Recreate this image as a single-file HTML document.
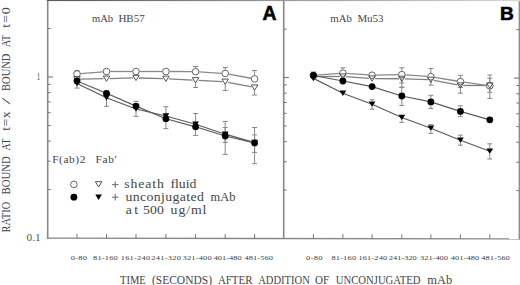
<!DOCTYPE html>
<html><head><meta charset="utf-8"><style>
html,body{margin:0;padding:0;background:#fff;width:520px;height:285px;overflow:hidden}
svg{display:block}
</style></head><body>
<svg width="520" height="285" viewBox="0 0 520 285">
<rect width="520" height="285" fill="#fff"/>
<line x1="47.7" y1="0" x2="47.7" y2="238.79999999999998" stroke="#888" stroke-width="1.6"/>
<line x1="283.7" y1="0" x2="283.7" y2="238.79999999999998" stroke="#888" stroke-width="1.6"/>
<line x1="519.3" y1="0" x2="519.3" y2="239.39999999999998" stroke="#8e8e8e" stroke-width="1.4"/>
<defs><linearGradient id="tg" x1="0" y1="0" x2="1" y2="0"><stop offset="0" stop-color="#585858"/><stop offset="1" stop-color="#d8d8d8"/></linearGradient></defs>
<rect x="46.900000000000006" y="0" width="473.2" height="1.1" fill="url(#tg)"/>
<line x1="46.900000000000006" y1="238.2" x2="520.0999999999999" y2="238.89999999999998" stroke="#888" stroke-width="1.3"/>
<line x1="47.7" y1="77.0" x2="52.900000000000006" y2="77.0" stroke="#777" stroke-width="1.1"/>
<line x1="47.7" y1="28.5" x2="50.7" y2="28.5" stroke="#777" stroke-width="1"/>
<line x1="47.7" y1="84.4" x2="50.7" y2="84.4" stroke="#777" stroke-width="1"/>
<line x1="47.7" y1="92.6" x2="50.7" y2="92.6" stroke="#777" stroke-width="1"/>
<line x1="47.7" y1="101.9" x2="50.7" y2="101.9" stroke="#777" stroke-width="1"/>
<line x1="47.7" y1="112.7" x2="50.7" y2="112.7" stroke="#777" stroke-width="1"/>
<line x1="47.7" y1="125.5" x2="50.7" y2="125.5" stroke="#777" stroke-width="1"/>
<line x1="47.7" y1="141.1" x2="50.7" y2="141.1" stroke="#777" stroke-width="1"/>
<line x1="47.7" y1="161.2" x2="50.7" y2="161.2" stroke="#777" stroke-width="1"/>
<line x1="47.7" y1="189.5" x2="50.7" y2="189.5" stroke="#777" stroke-width="1"/>
<line x1="283.7" y1="77.5" x2="288.9" y2="77.5" stroke="#777" stroke-width="1.1"/>
<line x1="283.7" y1="29.1" x2="286.7" y2="29.1" stroke="#777" stroke-width="1"/>
<line x1="283.7" y1="84.9" x2="286.7" y2="84.9" stroke="#777" stroke-width="1"/>
<line x1="283.7" y1="93.1" x2="286.7" y2="93.1" stroke="#777" stroke-width="1"/>
<line x1="283.7" y1="102.5" x2="286.7" y2="102.5" stroke="#777" stroke-width="1"/>
<line x1="283.7" y1="113.3" x2="286.7" y2="113.3" stroke="#777" stroke-width="1"/>
<line x1="283.7" y1="126.0" x2="286.7" y2="126.0" stroke="#777" stroke-width="1"/>
<line x1="283.7" y1="141.6" x2="286.7" y2="141.6" stroke="#777" stroke-width="1"/>
<line x1="283.7" y1="161.7" x2="286.7" y2="161.7" stroke="#777" stroke-width="1"/>
<line x1="283.7" y1="190.1" x2="286.7" y2="190.1" stroke="#777" stroke-width="1"/>
<line x1="519.3" y1="78.1" x2="514.0999999999999" y2="78.1" stroke="#777" stroke-width="1.1"/>
<line x1="519.3" y1="29.6" x2="516.3" y2="29.6" stroke="#777" stroke-width="1"/>
<line x1="519.3" y1="85.5" x2="516.3" y2="85.5" stroke="#777" stroke-width="1"/>
<line x1="519.3" y1="93.7" x2="516.3" y2="93.7" stroke="#777" stroke-width="1"/>
<line x1="519.3" y1="103.0" x2="516.3" y2="103.0" stroke="#777" stroke-width="1"/>
<line x1="519.3" y1="113.8" x2="516.3" y2="113.8" stroke="#777" stroke-width="1"/>
<line x1="519.3" y1="126.6" x2="516.3" y2="126.6" stroke="#777" stroke-width="1"/>
<line x1="519.3" y1="142.2" x2="516.3" y2="142.2" stroke="#777" stroke-width="1"/>
<line x1="519.3" y1="162.3" x2="516.3" y2="162.3" stroke="#777" stroke-width="1"/>
<line x1="519.3" y1="190.6" x2="516.3" y2="190.6" stroke="#777" stroke-width="1"/>
<line x1="77" y1="238.24" x2="77" y2="233.84" stroke="#777" stroke-width="1"/>
<line x1="106.5" y1="238.29" x2="106.5" y2="233.89" stroke="#777" stroke-width="1"/>
<line x1="136" y1="238.33" x2="136" y2="233.93" stroke="#777" stroke-width="1"/>
<line x1="165.9" y1="238.38" x2="165.9" y2="233.98" stroke="#777" stroke-width="1"/>
<line x1="195.6" y1="238.42" x2="195.6" y2="234.02" stroke="#777" stroke-width="1"/>
<line x1="225.2" y1="238.46" x2="225.2" y2="234.06" stroke="#777" stroke-width="1"/>
<line x1="254.6" y1="238.51" x2="254.6" y2="234.11" stroke="#777" stroke-width="1"/>
<line x1="313.4" y1="238.59" x2="313.4" y2="234.19" stroke="#777" stroke-width="1"/>
<line x1="342.9" y1="238.64" x2="342.9" y2="234.24" stroke="#777" stroke-width="1"/>
<line x1="372.1" y1="238.68" x2="372.1" y2="234.28" stroke="#777" stroke-width="1"/>
<line x1="401.8" y1="238.73" x2="401.8" y2="234.33" stroke="#777" stroke-width="1"/>
<line x1="430.9" y1="238.77" x2="430.9" y2="234.37" stroke="#777" stroke-width="1"/>
<line x1="460.4" y1="238.81" x2="460.4" y2="234.41" stroke="#777" stroke-width="1"/>
<line x1="489.8" y1="238.86" x2="489.8" y2="234.46" stroke="#777" stroke-width="1"/>
<line x1="74.5" y1="70.7" x2="79.5" y2="70.7" stroke="#888" stroke-width="1"/>
<line x1="195.6" y1="68.10" x2="195.6" y2="66.5" stroke="#888" stroke-width="1"/>
<line x1="193.1" y1="66.5" x2="198.1" y2="66.5" stroke="#888" stroke-width="1"/>
<line x1="225.2" y1="69.90" x2="225.2" y2="67.5" stroke="#888" stroke-width="1"/>
<line x1="222.7" y1="67.5" x2="227.7" y2="67.5" stroke="#888" stroke-width="1"/>
<line x1="254.6" y1="75.30" x2="254.6" y2="70.5" stroke="#888" stroke-width="1"/>
<line x1="252.1" y1="70.5" x2="257.1" y2="70.5" stroke="#888" stroke-width="1"/>
<line x1="195.6" y1="83.00" x2="195.6" y2="87.5" stroke="#888" stroke-width="1"/>
<line x1="193.1" y1="87.5" x2="198.1" y2="87.5" stroke="#888" stroke-width="1"/>
<line x1="225.2" y1="84.50" x2="225.2" y2="90.5" stroke="#888" stroke-width="1"/>
<line x1="222.7" y1="90.5" x2="227.7" y2="90.5" stroke="#888" stroke-width="1"/>
<line x1="254.6" y1="90.30" x2="254.6" y2="95" stroke="#888" stroke-width="1"/>
<line x1="252.1" y1="95" x2="257.1" y2="95" stroke="#888" stroke-width="1"/>
<line x1="77" y1="84.60" x2="77" y2="88.1" stroke="#888" stroke-width="1"/>
<line x1="74.5" y1="88.1" x2="79.5" y2="88.1" stroke="#888" stroke-width="1"/>
<line x1="106.5" y1="96.90" x2="106.5" y2="106.3" stroke="#888" stroke-width="1"/>
<line x1="104.0" y1="106.3" x2="109.0" y2="106.3" stroke="#888" stroke-width="1"/>
<line x1="136" y1="102.50" x2="136" y2="101.3" stroke="#888" stroke-width="1"/>
<line x1="133.5" y1="101.3" x2="138.5" y2="101.3" stroke="#888" stroke-width="1"/>
<line x1="136" y1="109.70" x2="136" y2="116.3" stroke="#888" stroke-width="1"/>
<line x1="133.5" y1="116.3" x2="138.5" y2="116.3" stroke="#888" stroke-width="1"/>
<line x1="165.9" y1="115.20" x2="165.9" y2="106.7" stroke="#888" stroke-width="1"/>
<line x1="163.4" y1="106.7" x2="168.4" y2="106.7" stroke="#888" stroke-width="1"/>
<line x1="165.9" y1="122.40" x2="165.9" y2="128.6" stroke="#888" stroke-width="1"/>
<line x1="163.4" y1="128.6" x2="168.4" y2="128.6" stroke="#888" stroke-width="1"/>
<line x1="195.6" y1="123.20" x2="195.6" y2="113.5" stroke="#888" stroke-width="1"/>
<line x1="193.1" y1="113.5" x2="198.1" y2="113.5" stroke="#888" stroke-width="1"/>
<line x1="195.6" y1="130.40" x2="195.6" y2="135.4" stroke="#888" stroke-width="1"/>
<line x1="193.1" y1="135.4" x2="198.1" y2="135.4" stroke="#888" stroke-width="1"/>
<line x1="225.2" y1="132.40" x2="225.2" y2="121.4" stroke="#888" stroke-width="1"/>
<line x1="222.7" y1="121.4" x2="227.7" y2="121.4" stroke="#888" stroke-width="1"/>
<line x1="225.2" y1="139.60" x2="225.2" y2="154.4" stroke="#888" stroke-width="1"/>
<line x1="222.7" y1="154.4" x2="227.7" y2="154.4" stroke="#888" stroke-width="1"/>
<line x1="254.6" y1="139.30" x2="254.6" y2="127.5" stroke="#888" stroke-width="1"/>
<line x1="252.1" y1="127.5" x2="257.1" y2="127.5" stroke="#888" stroke-width="1"/>
<line x1="254.6" y1="146.50" x2="254.6" y2="163.7" stroke="#888" stroke-width="1"/>
<line x1="252.1" y1="163.7" x2="257.1" y2="163.7" stroke="#888" stroke-width="1"/>
<line x1="225.2" y1="131.40" x2="225.2" y2="127.5" stroke="#888" stroke-width="1"/>
<line x1="222.7" y1="127.5" x2="227.7" y2="127.5" stroke="#888" stroke-width="1"/>
<line x1="225.2" y1="137.00" x2="225.2" y2="142.5" stroke="#888" stroke-width="1"/>
<line x1="222.7" y1="142.5" x2="227.7" y2="142.5" stroke="#888" stroke-width="1"/>
<line x1="254.6" y1="139.80" x2="254.6" y2="134.9" stroke="#888" stroke-width="1"/>
<line x1="252.1" y1="134.9" x2="257.1" y2="134.9" stroke="#888" stroke-width="1"/>
<line x1="254.6" y1="145.40" x2="254.6" y2="152.4" stroke="#888" stroke-width="1"/>
<line x1="252.1" y1="152.4" x2="257.1" y2="152.4" stroke="#888" stroke-width="1"/>
<line x1="80.59" y1="73.61" x2="102.91" y2="71.79" stroke="#8a8a8a" stroke-width="1.3"/>
<line x1="110.10" y1="71.50" x2="132.40" y2="71.50" stroke="#8a8a8a" stroke-width="1.3"/>
<line x1="139.60" y1="71.50" x2="162.30" y2="71.50" stroke="#8a8a8a" stroke-width="1.3"/>
<line x1="169.50" y1="71.52" x2="192.00" y2="71.68" stroke="#8a8a8a" stroke-width="1.3"/>
<line x1="199.19" y1="71.92" x2="221.61" y2="73.28" stroke="#8a8a8a" stroke-width="1.3"/>
<line x1="228.74" y1="74.15" x2="251.06" y2="78.25" stroke="#8a8a8a" stroke-width="1.3"/>
<line x1="80.00" y1="79.14" x2="103.50" y2="78.66" stroke="#808080" stroke-width="1.3"/>
<line x1="109.50" y1="78.53" x2="133.00" y2="77.97" stroke="#808080" stroke-width="1.3"/>
<line x1="139.00" y1="77.98" x2="162.90" y2="78.62" stroke="#808080" stroke-width="1.3"/>
<line x1="168.90" y1="78.85" x2="192.60" y2="80.05" stroke="#808080" stroke-width="1.3"/>
<line x1="198.60" y1="80.35" x2="222.20" y2="81.55" stroke="#808080" stroke-width="1.3"/>
<line x1="228.14" y1="82.28" x2="251.66" y2="86.92" stroke="#808080" stroke-width="1.3"/>
<polyline points="77,81.0 106.5,93.3 136,106.1 165.9,118.8 195.6,126.8 225.2,136 254.6,142.9" fill="none" stroke="#5a5a5a" stroke-width="1.2"/>
<polyline points="77,83.5 106.5,97.8 136,109 165.9,116 195.6,124.2 225.2,134.2 254.6,142.6" fill="none" stroke="#5a5a5a" stroke-width="1.2"/>
<circle cx="77" cy="73.9" r="3.3000000000000003" fill="none" stroke="#555" stroke-width="0.9"/>
<circle cx="106.5" cy="71.5" r="3.3000000000000003" fill="none" stroke="#555" stroke-width="0.9"/>
<circle cx="136" cy="71.5" r="3.3000000000000003" fill="none" stroke="#555" stroke-width="0.9"/>
<circle cx="165.9" cy="71.5" r="3.3000000000000003" fill="none" stroke="#555" stroke-width="0.9"/>
<circle cx="195.6" cy="71.7" r="3.3000000000000003" fill="none" stroke="#555" stroke-width="0.9"/>
<circle cx="225.2" cy="73.5" r="3.3000000000000003" fill="none" stroke="#555" stroke-width="0.9"/>
<circle cx="254.6" cy="78.9" r="3.3000000000000003" fill="none" stroke="#555" stroke-width="0.9"/>
<polygon points="73.75,76.6 80.25,76.6 77,81.9" fill="none" stroke="#555" stroke-width="1"/>
<polygon points="103.25,75.99999999999999 109.75,75.99999999999999 106.5,81.3" fill="none" stroke="#555" stroke-width="1"/>
<polygon points="132.75,75.3 139.25,75.3 136,80.60000000000001" fill="none" stroke="#555" stroke-width="1"/>
<polygon points="162.65,76.1 169.15,76.1 165.9,81.4" fill="none" stroke="#555" stroke-width="1"/>
<polygon points="192.35,77.6 198.85,77.6 195.6,82.9" fill="none" stroke="#555" stroke-width="1"/>
<polygon points="221.95,79.1 228.45,79.1 225.2,84.4" fill="none" stroke="#555" stroke-width="1"/>
<polygon points="251.35,84.89999999999999 257.85,84.89999999999999 254.6,90.2" fill="none" stroke="#555" stroke-width="1"/>
<polygon points="73.65,80.75 80.35,80.75 77,86.25" fill="#000"/>
<polygon points="103.15,95.05 109.85,95.05 106.5,100.55" fill="#000"/>
<polygon points="132.65,106.25 139.35,106.25 136,111.75" fill="#000"/>
<polygon points="162.55,113.25 169.25,113.25 165.9,118.75" fill="#000"/>
<polygon points="192.25,121.45 198.95,121.45 195.6,126.95" fill="#000"/>
<polygon points="221.85,131.45 228.54999999999998,131.45 225.2,136.95" fill="#000"/>
<polygon points="251.25,139.85 257.95,139.85 254.6,145.35" fill="#000"/>
<circle cx="77" cy="81.0" r="3.4" fill="#000"/>
<circle cx="106.5" cy="93.3" r="3.4" fill="#000"/>
<circle cx="136" cy="106.1" r="3.4" fill="#000"/>
<circle cx="165.9" cy="118.8" r="3.4" fill="#000"/>
<circle cx="195.6" cy="126.8" r="3.4" fill="#000"/>
<circle cx="225.2" cy="136" r="3.4" fill="#000"/>
<circle cx="254.6" cy="142.9" r="3.4" fill="#000"/>
<line x1="310.9" y1="72" x2="315.9" y2="72" stroke="#888" stroke-width="1"/>
<line x1="342.9" y1="69.50" x2="342.9" y2="67.8" stroke="#888" stroke-width="1"/>
<line x1="340.4" y1="67.8" x2="345.4" y2="67.8" stroke="#888" stroke-width="1"/>
<line x1="401.8" y1="71.00" x2="401.8" y2="67.8" stroke="#888" stroke-width="1"/>
<line x1="399.3" y1="67.8" x2="404.3" y2="67.8" stroke="#888" stroke-width="1"/>
<line x1="401.8" y1="78.20" x2="401.8" y2="83" stroke="#888" stroke-width="1"/>
<line x1="399.3" y1="83" x2="404.3" y2="83" stroke="#888" stroke-width="1"/>
<line x1="430.9" y1="73.10" x2="430.9" y2="68.5" stroke="#888" stroke-width="1"/>
<line x1="428.4" y1="68.5" x2="433.4" y2="68.5" stroke="#888" stroke-width="1"/>
<line x1="430.9" y1="80.30" x2="430.9" y2="85.2" stroke="#888" stroke-width="1"/>
<line x1="428.4" y1="85.2" x2="433.4" y2="85.2" stroke="#888" stroke-width="1"/>
<line x1="460.4" y1="78.00" x2="460.4" y2="75.3" stroke="#888" stroke-width="1"/>
<line x1="457.9" y1="75.3" x2="462.9" y2="75.3" stroke="#888" stroke-width="1"/>
<line x1="460.4" y1="85.20" x2="460.4" y2="87.4" stroke="#888" stroke-width="1"/>
<line x1="457.9" y1="87.4" x2="462.9" y2="87.4" stroke="#888" stroke-width="1"/>
<line x1="489.8" y1="82.20" x2="489.8" y2="75" stroke="#888" stroke-width="1"/>
<line x1="487.3" y1="75" x2="492.3" y2="75" stroke="#888" stroke-width="1"/>
<line x1="489.8" y1="89.40" x2="489.8" y2="92.3" stroke="#888" stroke-width="1"/>
<line x1="487.3" y1="92.3" x2="492.3" y2="92.3" stroke="#888" stroke-width="1"/>
<line x1="401.8" y1="81.60" x2="401.8" y2="87.3" stroke="#888" stroke-width="1"/>
<line x1="399.3" y1="87.3" x2="404.3" y2="87.3" stroke="#888" stroke-width="1"/>
<line x1="460.4" y1="88.30" x2="460.4" y2="93.2" stroke="#888" stroke-width="1"/>
<line x1="457.9" y1="93.2" x2="462.9" y2="93.2" stroke="#888" stroke-width="1"/>
<line x1="489.8" y1="82.70" x2="489.8" y2="78.2" stroke="#888" stroke-width="1"/>
<line x1="487.3" y1="78.2" x2="492.3" y2="78.2" stroke="#888" stroke-width="1"/>
<line x1="489.8" y1="88.30" x2="489.8" y2="98.4" stroke="#888" stroke-width="1"/>
<line x1="487.3" y1="98.4" x2="492.3" y2="98.4" stroke="#888" stroke-width="1"/>
<line x1="401.8" y1="92.40" x2="401.8" y2="87.3" stroke="#888" stroke-width="1"/>
<line x1="399.3" y1="87.3" x2="404.3" y2="87.3" stroke="#888" stroke-width="1"/>
<line x1="401.8" y1="99.60" x2="401.8" y2="105.5" stroke="#888" stroke-width="1"/>
<line x1="399.3" y1="105.5" x2="404.3" y2="105.5" stroke="#888" stroke-width="1"/>
<line x1="430.9" y1="98.30" x2="430.9" y2="95.3" stroke="#888" stroke-width="1"/>
<line x1="428.4" y1="95.3" x2="433.4" y2="95.3" stroke="#888" stroke-width="1"/>
<line x1="430.9" y1="105.50" x2="430.9" y2="108.4" stroke="#888" stroke-width="1"/>
<line x1="428.4" y1="108.4" x2="433.4" y2="108.4" stroke="#888" stroke-width="1"/>
<line x1="460.4" y1="107.80" x2="460.4" y2="105.8" stroke="#888" stroke-width="1"/>
<line x1="457.9" y1="105.8" x2="462.9" y2="105.8" stroke="#888" stroke-width="1"/>
<line x1="460.4" y1="115.00" x2="460.4" y2="116.7" stroke="#888" stroke-width="1"/>
<line x1="457.9" y1="116.7" x2="462.9" y2="116.7" stroke="#888" stroke-width="1"/>
<line x1="372.1" y1="101.40" x2="372.1" y2="99.8" stroke="#888" stroke-width="1"/>
<line x1="369.6" y1="99.8" x2="374.6" y2="99.8" stroke="#888" stroke-width="1"/>
<line x1="372.1" y1="107.00" x2="372.1" y2="109.2" stroke="#888" stroke-width="1"/>
<line x1="369.6" y1="109.2" x2="374.6" y2="109.2" stroke="#888" stroke-width="1"/>
<line x1="401.8" y1="120.30" x2="401.8" y2="122.3" stroke="#888" stroke-width="1"/>
<line x1="399.3" y1="122.3" x2="404.3" y2="122.3" stroke="#888" stroke-width="1"/>
<line x1="430.9" y1="125.50" x2="430.9" y2="124.6" stroke="#888" stroke-width="1"/>
<line x1="428.4" y1="124.6" x2="433.4" y2="124.6" stroke="#888" stroke-width="1"/>
<line x1="430.9" y1="131.10" x2="430.9" y2="133.3" stroke="#888" stroke-width="1"/>
<line x1="428.4" y1="133.3" x2="433.4" y2="133.3" stroke="#888" stroke-width="1"/>
<line x1="460.4" y1="137.40" x2="460.4" y2="135.1" stroke="#888" stroke-width="1"/>
<line x1="457.9" y1="135.1" x2="462.9" y2="135.1" stroke="#888" stroke-width="1"/>
<line x1="460.4" y1="143.00" x2="460.4" y2="145.2" stroke="#888" stroke-width="1"/>
<line x1="457.9" y1="145.2" x2="462.9" y2="145.2" stroke="#888" stroke-width="1"/>
<line x1="489.8" y1="148.40" x2="489.8" y2="143.8" stroke="#888" stroke-width="1"/>
<line x1="487.3" y1="143.8" x2="492.3" y2="143.8" stroke="#888" stroke-width="1"/>
<line x1="489.8" y1="154.00" x2="489.8" y2="159" stroke="#888" stroke-width="1"/>
<line x1="487.3" y1="159" x2="492.3" y2="159" stroke="#888" stroke-width="1"/>
<line x1="316.99" y1="75.21" x2="339.31" y2="73.39" stroke="#8a8a8a" stroke-width="1.3"/>
<line x1="346.49" y1="73.36" x2="368.51" y2="74.94" stroke="#8a8a8a" stroke-width="1.3"/>
<line x1="375.70" y1="75.13" x2="398.20" y2="74.67" stroke="#8a8a8a" stroke-width="1.3"/>
<line x1="405.39" y1="74.86" x2="427.31" y2="76.44" stroke="#8a8a8a" stroke-width="1.3"/>
<line x1="434.45" y1="77.29" x2="456.85" y2="81.01" stroke="#8a8a8a" stroke-width="1.3"/>
<line x1="463.96" y1="82.11" x2="486.24" y2="85.29" stroke="#8a8a8a" stroke-width="1.3"/>
<line x1="316.40" y1="76.50" x2="339.90" y2="76.50" stroke="#808080" stroke-width="1.3"/>
<line x1="345.89" y1="76.70" x2="369.11" y2="78.30" stroke="#808080" stroke-width="1.3"/>
<line x1="375.10" y1="78.53" x2="398.80" y2="78.77" stroke="#808080" stroke-width="1.3"/>
<line x1="404.80" y1="78.90" x2="427.90" y2="79.70" stroke="#808080" stroke-width="1.3"/>
<line x1="433.85" y1="80.37" x2="457.45" y2="84.93" stroke="#808080" stroke-width="1.3"/>
<line x1="463.40" y1="85.50" x2="486.80" y2="85.50" stroke="#808080" stroke-width="1.3"/>
<polyline points="313.4,75.5 342.9,81 372.1,86.6 401.8,96 430.9,101.9 460.4,111.4 489.8,119.8" fill="none" stroke="#5a5a5a" stroke-width="1.2"/>
<polyline points="313.4,78.4 342.9,93.3 372.1,104.2 401.8,117.5 430.9,128.3 460.4,140.2 489.8,151.2" fill="none" stroke="#5a5a5a" stroke-width="1.2"/>
<circle cx="313.4" cy="75.5" r="3.3000000000000003" fill="none" stroke="#555" stroke-width="0.9"/>
<circle cx="342.9" cy="73.1" r="3.3000000000000003" fill="none" stroke="#555" stroke-width="0.9"/>
<circle cx="372.1" cy="75.2" r="3.3000000000000003" fill="none" stroke="#555" stroke-width="0.9"/>
<circle cx="401.8" cy="74.6" r="3.3000000000000003" fill="none" stroke="#555" stroke-width="0.9"/>
<circle cx="430.9" cy="76.7" r="3.3000000000000003" fill="none" stroke="#555" stroke-width="0.9"/>
<circle cx="460.4" cy="81.6" r="3.3000000000000003" fill="none" stroke="#555" stroke-width="0.9"/>
<circle cx="489.8" cy="85.8" r="3.3000000000000003" fill="none" stroke="#555" stroke-width="0.9"/>
<polygon points="310.15,73.89999999999999 316.65,73.89999999999999 313.4,79.2" fill="none" stroke="#555" stroke-width="1"/>
<polygon points="339.65,73.89999999999999 346.15,73.89999999999999 342.9,79.2" fill="none" stroke="#555" stroke-width="1"/>
<polygon points="368.85,75.89999999999999 375.35,75.89999999999999 372.1,81.2" fill="none" stroke="#555" stroke-width="1"/>
<polygon points="398.55,76.19999999999999 405.05,76.19999999999999 401.8,81.5" fill="none" stroke="#555" stroke-width="1"/>
<polygon points="427.65,77.19999999999999 434.15,77.19999999999999 430.9,82.5" fill="none" stroke="#555" stroke-width="1"/>
<polygon points="457.15,82.89999999999999 463.65,82.89999999999999 460.4,88.2" fill="none" stroke="#555" stroke-width="1"/>
<polygon points="486.55,82.89999999999999 493.05,82.89999999999999 489.8,88.2" fill="none" stroke="#555" stroke-width="1"/>
<polygon points="310.04999999999995,75.65 316.75,75.65 313.4,81.15" fill="#000"/>
<polygon points="339.54999999999995,90.55 346.25,90.55 342.9,96.05" fill="#000"/>
<polygon points="368.75,101.45 375.45000000000005,101.45 372.1,106.95" fill="#000"/>
<polygon points="398.45,114.75 405.15000000000003,114.75 401.8,120.25" fill="#000"/>
<polygon points="427.54999999999995,125.55000000000001 434.25,125.55000000000001 430.9,131.05" fill="#000"/>
<polygon points="457.04999999999995,137.45 463.75,137.45 460.4,142.95" fill="#000"/>
<polygon points="486.45,148.45 493.15000000000003,148.45 489.8,153.95" fill="#000"/>
<circle cx="313.4" cy="75.5" r="3.4" fill="#000"/>
<circle cx="342.9" cy="81" r="3.4" fill="#000"/>
<circle cx="372.1" cy="86.6" r="3.4" fill="#000"/>
<circle cx="401.8" cy="96" r="3.4" fill="#000"/>
<circle cx="430.9" cy="101.9" r="3.4" fill="#000"/>
<circle cx="460.4" cy="111.4" r="3.4" fill="#000"/>
<circle cx="489.8" cy="119.8" r="3.4" fill="#000"/>
<text transform="translate(91.88,21.5) scale(1.0665,1)" font-size="10" fill="#454545" style="font-family:'Liberation Serif',serif">mAb</text>
<text transform="translate(118.43,21.6) scale(1.1001,1)" font-size="10" fill="#454545" style="font-family:'Liberation Serif',serif">HB57</text>
<text transform="translate(330.27,21.7) scale(1.0820,1)" font-size="10" fill="#454545" style="font-family:'Liberation Serif',serif">mAb</text>
<text transform="translate(357.38,21.7) scale(1.0942,1)" font-size="10" fill="#454545" style="font-family:'Liberation Serif',serif">Mu53</text>
<text transform="translate(262.62,20.4) scale(0.9937,1)" font-size="19.5" fill="#000" style="font-family:'Liberation Sans',sans-serif;font-weight:bold" stroke="#000" stroke-width="0.6">A</text>
<text transform="translate(499.93,20.4) scale(1.0011,1)" font-size="19" fill="#000" style="font-family:'Liberation Sans',sans-serif;font-weight:bold" stroke="#000" stroke-width="0.6">B</text>
<text transform="translate(36.78,79.9) scale(0.7101,1)" font-size="10" fill="#555" style="font-family:'Liberation Serif',serif">1</text>
<text transform="translate(26.57,240.8) scale(1.1373,1)" font-size="10" fill="#555" style="font-family:'Liberation Serif',serif">0.1</text>
<text transform="translate(52.17,162.7) scale(1.2000,1)" font-size="9.5" fill="#454545" style="font-family:'Liberation Serif',serif" letter-spacing="0.477">F(ab)2</text>
<text transform="translate(95.57,162.7) scale(1.2000,1)" font-size="9.5" fill="#454545" style="font-family:'Liberation Serif',serif" letter-spacing="0.487">Fab'</text>
<circle cx="73.9" cy="184.4" r="3.3000000000000003" fill="none" stroke="#555" stroke-width="0.9"/>
<polygon points="95.35,181.70000000000002 101.85,181.70000000000002 98.6,187.00000000000003" fill="none" stroke="#555" stroke-width="1"/>
<circle cx="73.9" cy="197.2" r="3.4" fill="#000"/>
<polygon points="95.25,194.45 101.94999999999999,194.45 98.6,199.95" fill="#000"/>
<line x1="111.9" y1="184.7" x2="118.5" y2="184.7" stroke="#666" stroke-width="1"/>
<line x1="115.2" y1="181.39999999999998" x2="115.2" y2="188.0" stroke="#666" stroke-width="1"/>
<line x1="111.9" y1="197.2" x2="118.5" y2="197.2" stroke="#666" stroke-width="1"/>
<line x1="115.2" y1="193.89999999999998" x2="115.2" y2="200.5" stroke="#666" stroke-width="1"/>
<text transform="translate(124.33,187.8) scale(1.2000,1)" font-size="11.5" fill="#454545" style="font-family:'Liberation Serif',serif" letter-spacing="0.732">sheath</text>
<text transform="translate(170.38,187.8) scale(1.1967,1)" font-size="11.5" fill="#454545" style="font-family:'Liberation Serif',serif">fluid</text>
<text transform="translate(125.42,200.8) scale(1.2000,1)" font-size="11.5" fill="#454545" style="font-family:'Liberation Serif',serif" letter-spacing="0.319">unconjugated</text>
<text transform="translate(210.54,200.8) scale(1.0842,1)" font-size="11.5" fill="#454545" style="font-family:'Liberation Serif',serif">mAb</text>
<text transform="translate(125.81,213.9) scale(1.2000,1)" font-size="11.5" fill="#454545" style="font-family:'Liberation Serif',serif" letter-spacing="1.922">at</text>
<text transform="translate(143.00,213.9) scale(1.2000,1)" font-size="11.5" fill="#454545" style="font-family:'Liberation Serif',serif" letter-spacing="0.136">500</text>
<text transform="translate(170.62,213.9) scale(1.2000,1)" font-size="11.5" fill="#454545" style="font-family:'Liberation Serif',serif" letter-spacing="0.762">ug/ml</text>
<text transform="translate(70.68,259.6) scale(1.2000,1)" font-size="7" fill="#444" style="font-family:'Liberation Serif',serif" letter-spacing="0.262">0-80</text>
<text transform="translate(92.98,259.6) scale(1.2000,1)" font-size="7" fill="#444" style="font-family:'Liberation Serif',serif" letter-spacing="0.174">81-160</text>
<text transform="translate(120.76,259.6) scale(1.2000,1)" font-size="7" fill="#444" style="font-family:'Liberation Serif',serif" letter-spacing="0.189">161-240</text>
<text transform="translate(151.33,259.6) scale(1.2000,1)" font-size="7" fill="#444" style="font-family:'Liberation Serif',serif" letter-spacing="0.221">241-320</text>
<text transform="translate(182.60,259.6) scale(1.2000,1)" font-size="7" fill="#444" style="font-family:'Liberation Serif',serif" letter-spacing="0.142">321-400</text>
<text transform="translate(213.64,259.6) scale(1.1994,1)" font-size="7" fill="#444" style="font-family:'Liberation Serif',serif">401-480</text>
<text transform="translate(244.44,259.6) scale(1.2000,1)" font-size="7" fill="#444" style="font-family:'Liberation Serif',serif" letter-spacing="0.081">481-560</text>
<text transform="translate(305.88,259.6) scale(1.2000,1)" font-size="7" fill="#444" style="font-family:'Liberation Serif',serif" letter-spacing="0.317">0-80</text>
<text transform="translate(331.38,259.6) scale(1.2000,1)" font-size="7" fill="#444" style="font-family:'Liberation Serif',serif" letter-spacing="0.157">81-160</text>
<text transform="translate(358.46,259.6) scale(1.2000,1)" font-size="7" fill="#444" style="font-family:'Liberation Serif',serif" letter-spacing="0.106">161-240</text>
<text transform="translate(388.83,259.6) scale(1.1996,1)" font-size="7" fill="#444" style="font-family:'Liberation Serif',serif">241-320</text>
<text transform="translate(420.00,259.6) scale(1.2000,1)" font-size="7" fill="#444" style="font-family:'Liberation Serif',serif" letter-spacing="0.003">321-400</text>
<text transform="translate(450.84,259.6) scale(1.2000,1)" font-size="7" fill="#444" style="font-family:'Liberation Serif',serif" letter-spacing="0.040">401-480</text>
<text transform="translate(481.34,259.6) scale(1.2000,1)" font-size="7" fill="#444" style="font-family:'Liberation Serif',serif" letter-spacing="0.054">481-560</text>
<text transform="translate(120.11,283.9) scale(0.8993,1)" font-size="11.7" fill="#454545" style="font-family:'Liberation Serif',serif">TIME</text>
<text transform="translate(151.89,283.9) scale(0.9854,1)" font-size="11.7" fill="#454545" style="font-family:'Liberation Serif',serif">(SECONDS)</text>
<text transform="translate(217.89,283.9) scale(0.9344,1)" font-size="11.7" fill="#454545" style="font-family:'Liberation Serif',serif">AFTER</text>
<text transform="translate(258.20,283.9) scale(0.9049,1)" font-size="11.7" fill="#454545" style="font-family:'Liberation Serif',serif">ADDITION</text>
<text transform="translate(314.95,283.9) scale(0.9464,1)" font-size="11.7" fill="#454545" style="font-family:'Liberation Serif',serif">OF</text>
<text transform="translate(335.78,283.9) scale(0.9141,1)" font-size="11.7" fill="#454545" style="font-family:'Liberation Serif',serif">UNCONJUGATED</text>
<text transform="translate(427.34,283.9) scale(1.0657,1)" font-size="11.7" fill="#454545" style="font-family:'Liberation Serif',serif">mAb</text>
<g transform="translate(9.8,232.2) rotate(-90)"><text transform="translate(-0.30,0) scale(0.9010,1)" font-size="11.6" fill="#454545" style="font-family:'Liberation Serif',serif">RATIO</text><text transform="translate(37.79,0) scale(0.9271,1)" font-size="11.6" fill="#454545" style="font-family:'Liberation Serif',serif">BOUND</text><text transform="translate(81.80,0) scale(0.8445,1)" font-size="11.6" fill="#454545" style="font-family:'Liberation Serif',serif">AT</text><text transform="translate(101.36,0) scale(1.2000,1)" font-size="11.6" fill="#454545" style="font-family:'Liberation Serif',serif" letter-spacing="0.387">t=x</text><text transform="translate(127.60,0) scale(2.2030,1)" font-size="11.6" fill="#454545" style="font-family:'Liberation Serif',serif">/</text><text transform="translate(141.30,0) scale(0.9049,1)" font-size="11.6" fill="#454545" style="font-family:'Liberation Serif',serif">BOUND</text><text transform="translate(185.30,0) scale(0.8445,1)" font-size="11.6" fill="#454545" style="font-family:'Liberation Serif',serif">AT</text><text transform="translate(204.56,0) scale(1.2000,1)" font-size="11.6" fill="#454545" style="font-family:'Liberation Serif',serif" letter-spacing="0.703">t=0</text></g>
</svg>
</body></html>
